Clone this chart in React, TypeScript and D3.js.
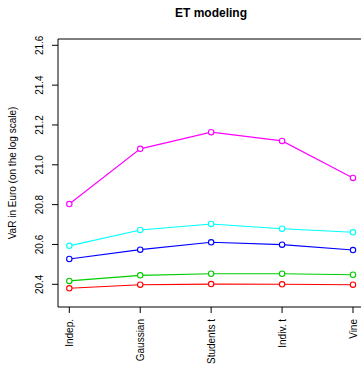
import React from "react";
import * as d3 from "d3";

const models = ["Indep.", "Gaussian", "Students t", "Indiv. t", "Vine"];
const magentaVals = [20.803, 21.08, 21.164, 21.12, 20.934];
const cyanVals = [20.593, 20.673, 20.703, 20.679, 20.661];
const blueVals = [20.527, 20.574, 20.611, 20.599, 20.572];
const greenVals = [20.417, 20.445, 20.453, 20.453, 20.448];
const redVals = [20.38, 20.398, 20.401, 20.4, 20.398];
const yTicks = [20.4, 20.6, 20.8, 21.0, 21.2, 21.4, 21.6];

const series = [
  { color: "#FF00FF", values: magentaVals },
  { color: "#00FFFF", values: cyanVals },
  { color: "#0000FF", values: blueVals },
  { color: "#00CD00", values: greenVals },
  { color: "#FF0000", values: redVals },
];

const font = "'Liberation Sans', Arial, sans-serif";

const App = () => {
  const width = 361;
  const height = 369;
  const box = { left: 58, top: 39, right: 364, bottom: 307 };

  const x = d3.scalePoint<string>().domain(models).range([69.3, 353]);
  const y = d3.scaleLinear().domain([20.4, 21.6]).range([284.3, 45.3]);

  const line = d3
    .line<number>()
    .x((d, i) => x(models[i]) as number)
    .y((d) => y(d));

  return (
    <svg
      width={width}
      height={height}
      style={{ position: "absolute", left: 0, top: 0, background: "#fff" }}
      fontFamily={font}
    >
      <text x={211} y={17} textAnchor="middle" fontWeight="bold" fontSize={12}>
        ET modeling
      </text>

      {/* box: left, top, bottom (right edge falls outside) */}
      <path
        d={`M${box.right},${box.top}H${box.left}V${box.bottom}H${box.right}`}
        fill="none"
        stroke="#000"
        strokeWidth={1}
      />

      {yTicks.map((t) => (
        <g key={t}>
          <line x1={box.left - 6} x2={box.left} y1={y(t)} y2={y(t)} stroke="#000" />
          <text
            transform={`translate(${box.left - 19},${y(t)}) rotate(-90)`}
            textAnchor="middle"
            fontSize={10}
            dy="0.35em"
          >
            {t.toFixed(1)}
          </text>
        </g>
      ))}

      <text
        transform={`translate(12,${(box.top + box.bottom) / 2}) rotate(-90)`}
        textAnchor="middle"
        fontSize={10}
        dy="0.35em"
      >
        VaR in Euro (on the log scale)
      </text>

      {models.map((m) => (
        <g key={m}>
          <line x1={x(m)} x2={x(m)} y1={box.bottom} y2={box.bottom + 6} stroke="#000" />
          <text
            transform={`translate(${x(m)},${box.bottom + 12}) rotate(-90)`}
            textAnchor="end"
            fontSize={10}
            dy="0.35em"
          >
            {m}
          </text>
        </g>
      ))}

      {series.map((s) => (
        <g key={s.color}>
          <path d={line(s.values) || ""} fill="none" stroke={s.color} strokeWidth={1.1} />
          {s.values.map((v, i) => (
            <circle
              key={i}
              cx={x(models[i])}
              cy={y(v)}
              r={2.7}
              fill="#fff"
              stroke={s.color}
              strokeWidth={1.1}
            />
          ))}
        </g>
      ))}
    </svg>
  );
};

export default App;
